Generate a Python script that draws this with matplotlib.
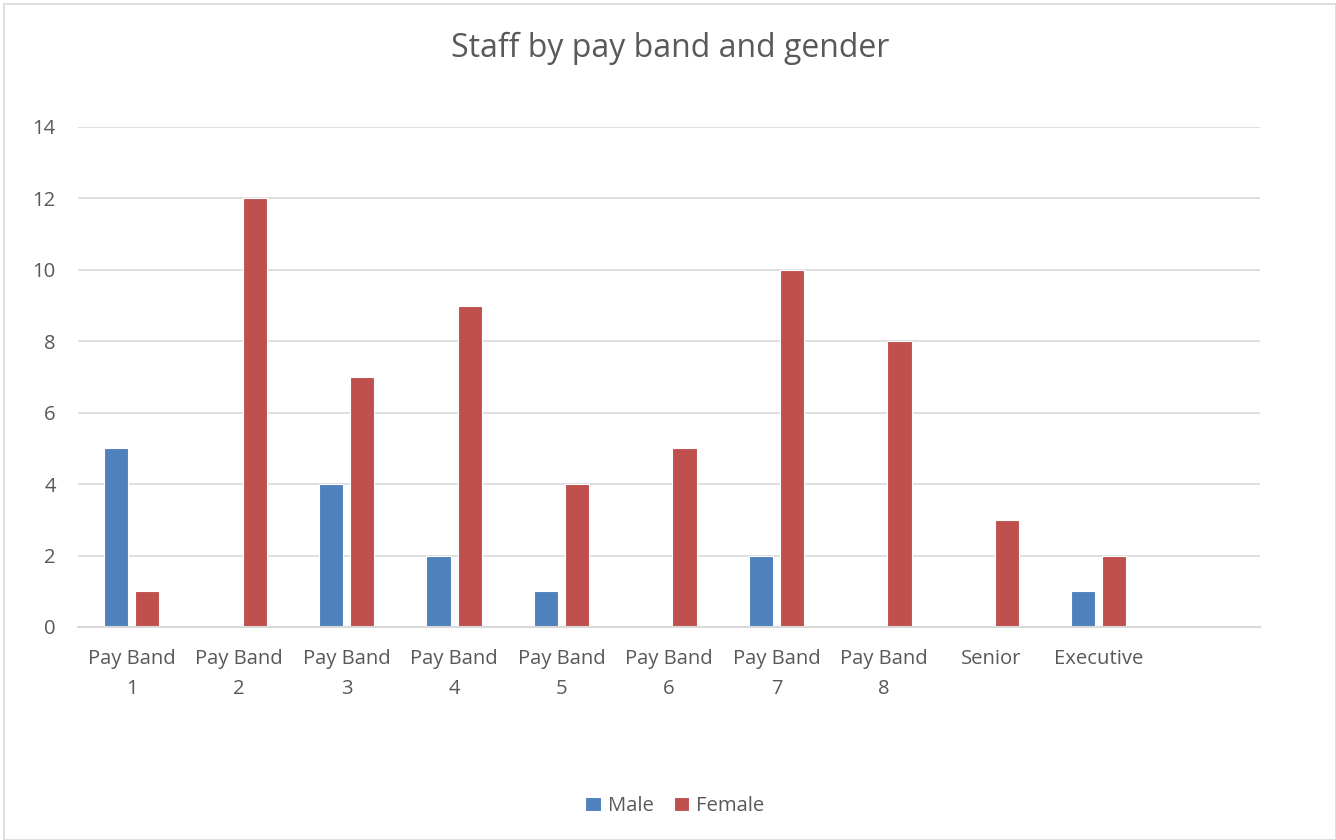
import matplotlib
matplotlib.use("Agg")
import matplotlib.pyplot as plt
import numpy as np
from matplotlib.patches import Rectangle

categories = ["Pay Band\n1", "Pay Band\n2", "Pay Band\n3", "Pay Band\n4", "Pay Band\n5",
              "Pay Band\n6", "Pay Band\n7", "Pay Band\n8", "Senior", "Executive", ""]
male = [5, 0, 4, 2, 1, 0, 2, 0, 0, 1, 0]
female = [1, 12, 7, 9, 4, 5, 10, 8, 3, 2, 0]
yticks = [0, 2, 4, 6, 8, 10, 12, 14]

W, H = 1336, 840
fig = plt.figure(figsize=(W/100, H/100), dpi=100)
ax = fig.add_axes([78/W, 1-627/H, (1260-78)/W, (627-127)/H])

x = np.arange(len(categories))
bw = 0.225
off = 0.145
ax.bar(x - off, male, bw, color="#4F81BD", edgecolor="white", linewidth=0.8, label="Male", zorder=3)
ax.bar(x + off, female, bw, color="#C0504D", edgecolor="white", linewidth=0.8, label="Female", zorder=3)

fs = 14.6
ax.set_xlim(-0.5, len(categories) - 0.5)
ax.set_ylim(0, 14)
ax.set_yticks(yticks)
ax.set_xticks(x)
ax.set_xticklabels(categories, fontfamily="Open Sans", fontsize=fs, color="#595959", linespacing=1.62)
ax.tick_params(axis="x", length=0, pad=16)
ax.tick_params(axis="y", length=0, pad=16, labelsize=fs, labelcolor="#595959")
for lab in ax.get_yticklabels():
    lab.set_fontfamily("Open Sans")
ax.grid(axis="y", color="#D9D9D9", linewidth=1.2, zorder=0)
for s in ["top", "right", "left"]:
    ax.spines[s].set_visible(False)
ax.spines["bottom"].set_color("#D9D9D9")
ax.spines["bottom"].set_linewidth(1.5)
ax.spines["bottom"].set_zorder(4)

fig.text(670/W, 1-48/H, "Staff by pay band and gender", ha="center", va="center",
         fontfamily="Open Sans", fontsize=23, color="#595959")

leg = fig.legend(loc="center", bbox_to_anchor=(675/W, 1-806/H), ncol=2, frameon=False,
                 prop={"family": "Open Sans", "size": fs}, labelcolor="#595959",
                 handlelength=0.75, handleheight=0.75, handletextpad=0.35, columnspacing=1.0)

fig.patches.append(Rectangle((4/W, 0), 1 - 4/W, 1 - 4/H, transform=fig.transFigure,
                             fill=False, edgecolor="#D9D9D9", linewidth=1.2))

fig.savefig("out.png", dpi=100)
